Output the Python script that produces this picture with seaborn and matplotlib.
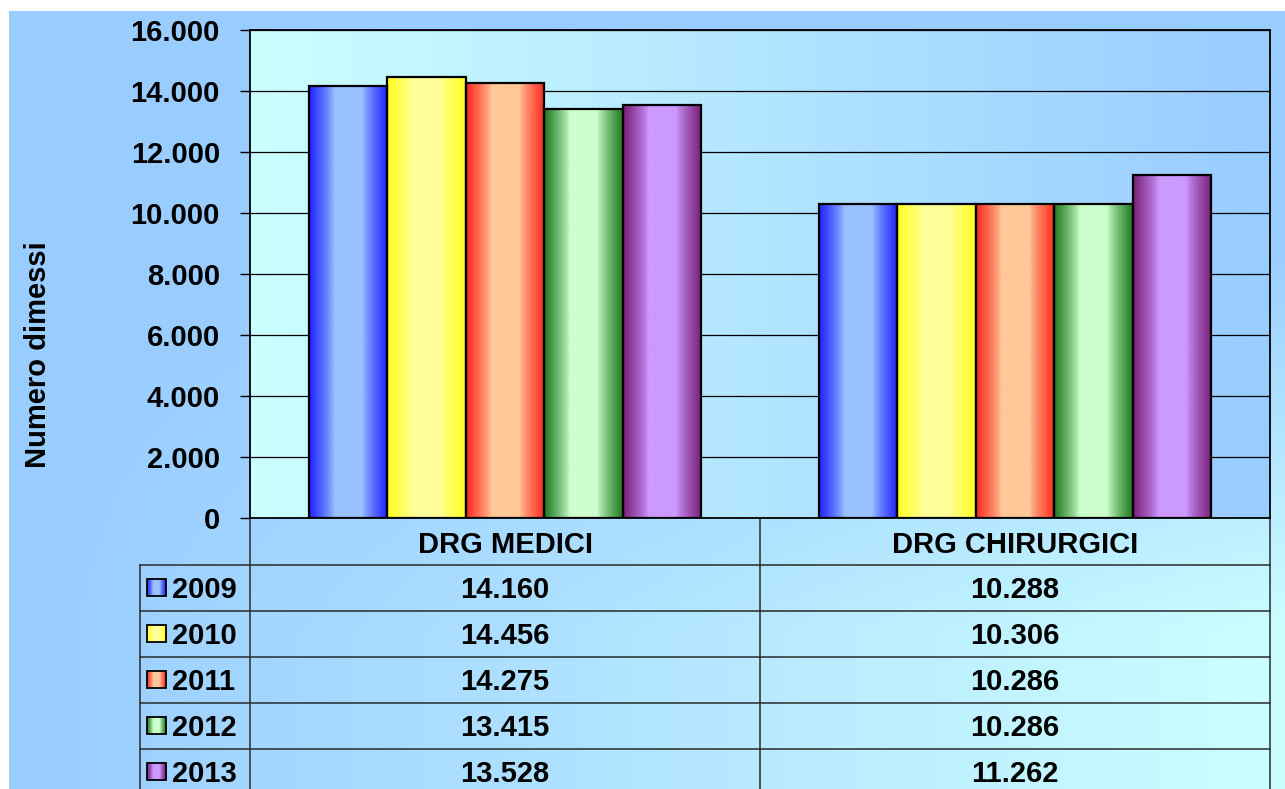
import numpy as np
import pandas as pd
import matplotlib
matplotlib.use("Agg")
import matplotlib.pyplot as plt
import seaborn as sns
from matplotlib.colors import to_rgb
from matplotlib.patches import Rectangle
from matplotlib.ticker import FuncFormatter

# data
categories = ["DRG MEDICI", "DRG CHIRURGICI"]
years = ["2009", "2010", "2011", "2012", "2013"]
medici = [14160, 14456, 14275, 13415, 13528]
chirurgici = [10288, 10306, 10286, 10286, 11262]

# bar colours: dark edge colour and light centre colour of each gradient
edge_colors = ["#2222ff", "#ffff22", "#ff2a1e", "#1f7a1f", "#7a1f7a"]
mid_colors = ["#99c2ff", "#ffff99", "#ffc899", "#ccffcc", "#cc99ff"]

W, H = 1285, 789

rows = []
for cat, vals in zip(categories, [medici, chirurgici]):
    for yr, v in zip(years, vals):
        rows.append({"categoria": cat, "anno": yr, "dimessi": v})
df = pd.DataFrame(rows)


def fmt(v):
    return f"{int(round(v)):,}".replace(",", ".")


def bar_gradient(edge, mid, n=200):
    u = np.linspace(0, 1, n)
    d = np.abs(u - 0.5) * 2
    f = np.clip((d - 0.35) / 0.65, 0, 1) ** 0.8
    e, m = np.array(to_rgb(edge)), np.array(to_rgb(mid))
    cols = m + f[:, None] * (e - m)
    return cols[None, :, :]


plt.rcParams["font.family"] = ["Liberation Sans", "DejaVu Sans"]
plt.rcParams["font.weight"] = "bold"

fig = plt.figure(figsize=(W / 100, H / 100), dpi=100, facecolor="white")

# background + data table layer (pixel coordinates)
bg = fig.add_axes([0, 0, 1, 1], zorder=0)
yy, xx = np.mgrid[11:H, 9:W].astype(float)
t = (xx / W) * np.clip((yy / H - 0.3) / 0.5, 0, 1)
c0, c1 = np.array(to_rgb("#99ccff")), np.array(to_rgb("#ccffff"))
bg_img = c0 + t[..., None] * (c1 - c0)
bg.imshow(bg_img, extent=(9, W, H, 11), aspect="auto", interpolation="bilinear")

# main chart
ax = fig.add_axes([250 / W, 1 - 518 / H, 1020 / W, 488 / H], zorder=1)
sns.barplot(data=df, x="categoria", y="dimessi", hue="anno",
            order=categories, hue_order=years, palette=edge_colors,
            width=0.77, edgecolor="black", linewidth=1.6, saturation=1,
            errorbar=None, legend=False, ax=ax)

for i, cont in enumerate(ax.containers):
    grad = bar_gradient(edge_colors[i], mid_colors[i])
    for bar in cont:
        x0, w, h = bar.get_x(), bar.get_width(), bar.get_height()
        im = ax.imshow(grad, extent=(x0, x0 + w, 0, h), aspect="auto",
                       interpolation="bilinear", zorder=1.5)
        im.set_clip_path(bar)
        bar.set_facecolor("none")
        bar.set_zorder(2)

# plot area gradient
u = np.linspace(0, 1, 300)
pa = np.array(to_rgb("#ccffff")) + u[:, None] * (np.array(to_rgb("#99ccff")) - np.array(to_rgb("#ccffff")))
ax.imshow(pa[None, :, :], extent=(-0.5, 1.5, 0, 16000), aspect="auto",
          interpolation="bilinear", zorder=0.1)

ax.set_xlim(-0.5, 1.5)
ax.set_ylim(0, 16000)
ax.set_yticks(np.arange(0, 16001, 2000))
ax.yaxis.set_major_formatter(FuncFormatter(lambda v, p: fmt(v)))
ax.set_axisbelow(True)
ax.yaxis.grid(True, color="black", linewidth=0.9)
ax.xaxis.grid(False)
ax.tick_params(axis="y", length=7.2, width=1.0, pad=14.4, labelsize=21)
ax.tick_params(axis="x", length=0, labelbottom=False)
ax.set_xlabel("")
ax.set_ylabel("")
for s in ax.spines.values():
    s.set_color("black")
    s.set_linewidth(1.3)

# y label
bg.text(38, 355, "Numero dimessi", rotation=90, ha="center", va="center",
        fontsize=21, fontweight="bold")

# data table below the chart
line_kw = dict(color="#2a2a2a", linewidth=1.1)
row_lines = [565, 611, 657, 703, 749]
for yl in row_lines:
    bg.plot([140, 1270], [yl, yl], **line_kw)
bg.plot([140, 140], [565, H], **line_kw)
for xl in [250, 760, 1270]:
    bg.plot([xl, xl], [518, H], **line_kw)

col_centers = [505, 1015]
for cx, cat in zip(col_centers, categories):
    bg.text(cx, 553, cat, ha="center", va="baseline", fontsize=21, fontweight="bold")

row_centers = [588, 634, 680, 726, 772]
for i, (yr, rc) in enumerate(zip(years, row_centers)):
    for cx, vals in zip(col_centers, [medici, chirurgici]):
        bg.text(cx, rc + 10.5, fmt(vals[i]), ha="center", va="baseline",
                fontsize=21, fontweight="bold")
    sw = bar_gradient(edge_colors[i], mid_colors[i], 40)
    bg.imshow(sw, extent=(147, 166, rc + 8, rc - 9), aspect="auto",
              interpolation="bilinear", zorder=2)
    bg.add_patch(Rectangle((147, rc - 9), 19, 17, facecolor="none",
                           edgecolor="black", linewidth=1.3, zorder=3))
    bg.text(172, rc + 10.5, yr, ha="left", va="baseline", fontsize=21,
            fontweight="bold")

bg.set_xlim(0, W)
bg.set_ylim(H, 0)
bg.axis("off")

fig.savefig("out.png", dpi=100, facecolor="white")
